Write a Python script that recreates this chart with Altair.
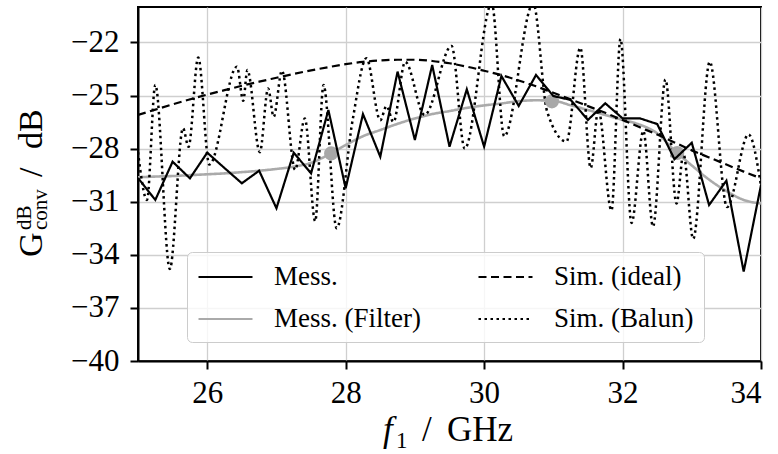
import altair as alt
import pandas as pd

# ---------------- data ----------------
freq = [25.0, 25.25, 25.5, 25.75, 26.0, 26.25, 26.5, 26.75, 27.0, 27.25,
        27.5, 27.75, 28.0, 28.25, 28.5, 28.75, 29.0, 29.25, 29.5, 29.75,
        30.0, 30.25, 30.5, 30.75, 31.0, 31.25, 31.5, 31.75, 32.0, 32.25,
        32.5, 32.75, 33.0, 33.25, 33.5, 33.75, 34.0]

mess = [-29.66, -30.9, -28.74, -29.68, -28.23, -29.1, -29.96, -29.25, -31.37, -28.23,
        -29.4, -25.82, -30.24, -26.05, -28.46, -23.65, -27.51, -23.28, -27.89, -24.65,
        -27.89, -23.9, -25.59, -23.84, -25.03, -25.25, -26.38, -25.44, -26.29, -26.29,
        -26.61, -28.6, -27.67, -31.19, -29.81, -34.95, -30.06]

mess_filter = [-29.62, -29.58, -29.55, -29.5, -29.45, -29.4, -29.33, -29.25, -29.15, -29.02,
               -28.8, -28.35, -27.8, -27.3, -26.95, -26.6, -26.3, -26.05, -25.88, -25.7,
               -25.56, -25.45, -25.32, -25.27, -25.3, -25.55, -25.82, -26.1, -26.38, -26.65,
               -27.14, -28.1, -28.95, -29.75, -30.4, -30.9, -31.1]

sim_ideal = [-26.1, -25.8, -25.5, -25.22, -24.95, -24.7, -24.45, -24.22, -24.0, -23.78,
             -23.58, -23.4, -23.23, -23.1, -23.02, -22.98, -22.98, -23.05, -23.18, -23.37,
             -23.6, -23.85, -24.15, -24.48, -24.85, -25.22, -25.6, -25.98, -26.38, -26.8,
             -27.2, -27.65, -28.1, -28.5, -28.9, -29.3, -29.68]

balun_f = [25.0, 25.13, 25.25, 25.46, 25.65, 25.73, 25.87, 26.03, 26.43, 26.52,
           26.58, 26.76, 26.88, 26.96, 27.08, 27.27, 27.41, 27.56, 27.68, 27.87,
           28.1, 28.3, 28.5, 28.59, 28.69, 28.86, 29.14, 29.53, 29.72, 30.11,
           30.29, 30.71, 30.91, 31.19, 31.39, 31.54, 31.65, 31.84, 31.97, 32.13,
           32.3, 32.44, 32.62, 32.78, 32.88, 33.02, 33.26, 33.51, 33.82, 34.0]
balun_db = [-28.2, -30.9, -24.4, -34.8, -26.85, -27.9, -22.85, -28.9, -23.37, -25.3,
            -23.56, -28.2, -24.6, -26.2, -23.6, -29.2, -26.3, -32.1, -24.4, -32.5,
            -26.4, -22.9, -26.4, -25.6, -26.5, -23.1, -26.1, -22.2, -28.0, -19.8,
            -27.3, -19.8, -25.9, -27.6, -22.3, -29.1, -25.8, -31.5, -21.8, -32.2,
            -27.0, -32.4, -24.1, -31.1, -28.3, -33.1, -23.1, -31.3, -27.2, -30.1]

marker_f = [27.79, 30.98, 32.79]
marker_db = [-28.27, -25.33, -28.25]

x_ticks = [26, 28, 30, 32, 34]
y_ticks = [-40, -37, -34, -31, -28, -25, -22]

series_names = ["Mess.", "Mess. (Filter)", "Sim. (ideal)", "Sim. (Balun)"]
series_colors = ["#000000", "#aaaaaa", "#000000", "#000000"]
series_dash = [[1, 0], [1, 0], [8, 4.5], [2.5, 3.5]]

SERIF = "Liberation Serif"

# ---------------- tables ----------------
df_mess = pd.DataFrame({"f": freq, "g": mess, "series": "Mess."})
df_filter = pd.DataFrame({"f": freq, "g": mess_filter, "series": "Mess. (Filter)"})
df_ideal = pd.DataFrame({"f": freq, "g": sim_ideal, "series": "Sim. (ideal)"})
df_balun = pd.DataFrame({"f": balun_f, "g": balun_db, "series": "Sim. (Balun)"})
df_marker = pd.DataFrame({"f": marker_f, "g": marker_db})

# ---------------- encodings ----------------
x_enc = alt.X("f:Q", scale=alt.Scale(domain=[25, 34], nice=False, zero=False),
              axis=alt.Axis(values=x_ticks, title=None, labelPadding=9))
y_enc = alt.Y("g:Q", scale=alt.Scale(domain=[-40, -20], nice=False, zero=False),
              axis=alt.Axis(values=y_ticks, title=None, labelPadding=11))

# vertical legend with 2 columns is filled column by column
leg = alt.Legend(
    title=None, orient="none", legendX=49, legendY=245, columns=2,
    direction="vertical", values=series_names,
    symbolType="M-1,0H3", symbolSize=729, symbolStrokeWidth=2.2,
    symbolFillColor="transparent",
    labelFont=SERIF, labelFontSize=27, labelColor="black", labelOffset=47,
    labelLimit=400, columnPadding=53, rowPadding=14, padding=10,
    fillColor="rgba(255,255,255,0.8)", strokeColor="#cccccc",
    cornerRadius=5,
)
color_enc = alt.Color("series:N", scale=alt.Scale(domain=series_names, range=series_colors),
                      legend=leg)
dash_enc = alt.StrokeDash("series:N", scale=alt.Scale(domain=series_names, range=series_dash),
                          legend=leg)


def line_layer(df, interp, width):
    return alt.Chart(df).mark_line(interpolate=interp, strokeWidth=width, clip=True,
                                   strokeCap="butt").encode(
        x=x_enc, y=y_enc, color=color_enc, strokeDash=dash_enc)


filter_line = line_layer(df_filter, "monotone", 2.6)
ideal_line = line_layer(df_ideal, "monotone", 2.2)
balun_line = line_layer(df_balun, "monotone", 2.5)
markers = alt.Chart(df_marker).mark_circle(size=200, color="#a8a8a8", opacity=1).encode(
    x=x_enc, y=y_enc)
mess_line = line_layer(df_mess, "linear", 2.2)


def label(text, px, py, size, angle=0, style="normal"):
    return alt.Chart(pd.DataFrame({"t": [text]})).mark_text(
        font=SERIF, fontSize=size, align="left", baseline="alphabetic",
        angle=angle, fontStyle=style, color="black").encode(
        text="t:N", x=alt.value(px), y=alt.value(py))


# y-axis title  G^dB_conv / dB   (rotated)
y_title = [
    label("G", -96, 250, 34, 270),
    label("dB", -107, 223, 21, 270),
    label("conv", -91, 223, 21, 270),
    label("/", -96, 170, 34, 270),
    label("dB", -96, 142, 34, 270),
]
# x-axis title  f_1 / GHz
x_title = [
    label("f", 245, 434, 35, 0, "italic"),
    label("1", 258, 441, 23),
    label("/", 284, 434, 35),
    label("GHz", 309, 434, 35),
]

chart = alt.layer(
    filter_line, ideal_line, balun_line, markers, mess_line, *y_title, *x_title
).properties(
    width=623, height=354,
    padding={"left": 138, "top": 7, "right": 17, "bottom": 93},
    autosize=alt.AutoSizeParams(type="none"),
).configure_view(
    stroke="black", strokeWidth=2
).configure_axis(
    labelFont=SERIF, labelFontSize=31, labelColor="black",
    tickSize=8, tickWidth=2, tickColor="black",
    domainColor="black", domainWidth=2,
    gridColor="#cfcfcf", gridWidth=1.3,
)

chart.save("out.html", embed_options={"renderer": "svg", "actions": False})
